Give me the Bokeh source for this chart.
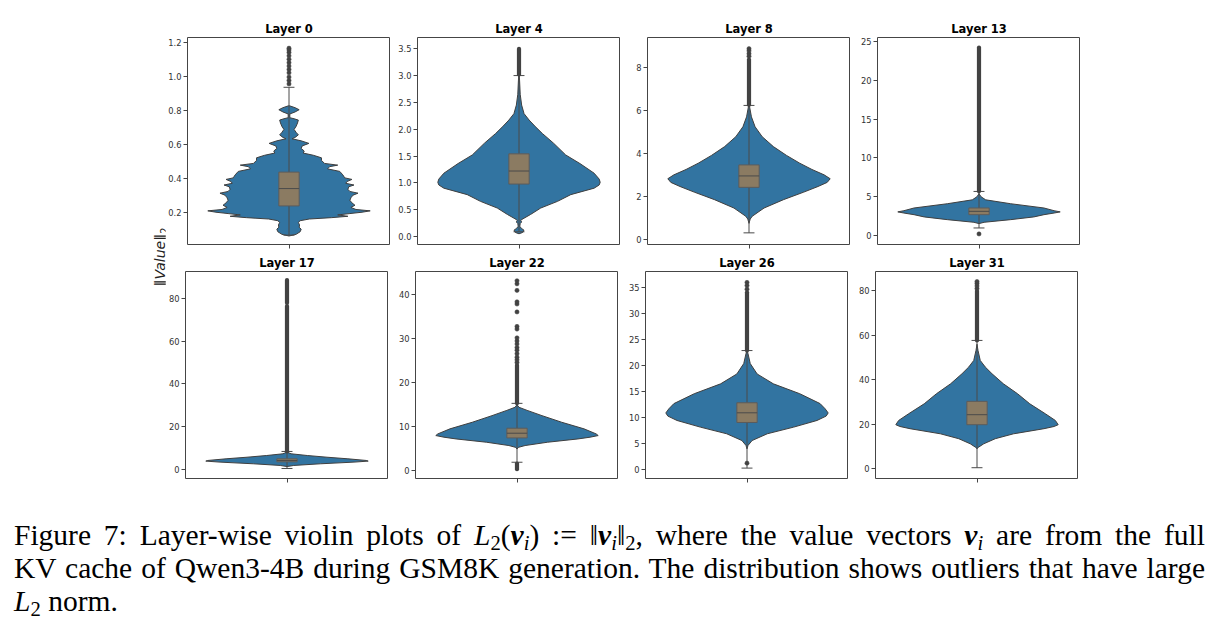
from bokeh.plotting import figure
from bokeh.models import Range1d, FixedTicker, Div, NumeralTickFormatter
from bokeh.layouts import row, column
from bokeh.embed import file_html
from bokeh.resources import INLINE

# ---------------- data ----------------
layer_names = ["Layer 0", "Layer 4", "Layer 8", "Layer 13",
               "Layer 17", "Layer 22", "Layer 26", "Layer 31"]

# violin outlines: y values and half-widths (fraction of category width)
l0_y = [0.060, 0.070, 0.085, 0.100, 0.112, 0.125, 0.140, 0.150, 0.160, 0.168, 0.176, 0.184,
        0.192, 0.200, 0.208, 0.216, 0.228, 0.241, 0.255, 0.270, 0.285, 0.300, 0.312, 0.322,
        0.335, 0.350, 0.360, 0.370, 0.380, 0.393, 0.402, 0.420, 0.440, 0.455, 0.468, 0.477,
        0.487, 0.505, 0.520, 0.535, 0.548, 0.560, 0.575, 0.590, 0.605, 0.620, 0.632, 0.640,
        0.655, 0.670, 0.687, 0.705, 0.725, 0.742, 0.750, 0.756, 0.778, 0.790, 0.803, 0.815, 0.826]
l0_w = [0.0, 0.035, 0.055, 0.060, 0.050, 0.052, 0.046, 0.055, 0.100, 0.21, 0.29, 0.24,
        0.30, 0.36, 0.40, 0.33, 0.305, 0.325, 0.31, 0.30, 0.305, 0.315, 0.34, 0.30,
        0.29, 0.295, 0.32, 0.28, 0.285, 0.31, 0.275, 0.265, 0.25, 0.19, 0.20, 0.24,
        0.175, 0.16, 0.16, 0.12, 0.07, 0.075, 0.06, 0.065, 0.098, 0.06, 0.015, 0.03,
        0.046, 0.035, 0.025, 0.035, 0.042, 0.046, 0.025, 0.004, 0.004, 0.03, 0.05, 0.03, 0.003]

l4_y = [0.05, 0.07, 0.09, 0.12, 0.15, 0.19, 0.24, 0.27, 0.30, 0.33, 0.41, 0.53, 0.655, 0.78,
        0.90, 0.96, 1.01, 1.07, 1.18, 1.36, 1.52, 1.74, 1.92, 2.05, 2.17, 2.29, 2.45, 2.65, 2.90, 3.10]
l4_w = [0.0, 0.015, 0.022, 0.024, 0.012, 0.004, 0.006, 0.013, 0.008, 0.02, 0.057, 0.107, 0.19, 0.255,
        0.37, 0.395, 0.40, 0.395, 0.37, 0.30, 0.23, 0.17, 0.115, 0.08, 0.05, 0.025, 0.013, 0.006, 0.003, 0.0]

l8_y = [0.75, 0.95, 1.08, 1.46, 1.85, 2.20, 2.46, 2.65, 2.82, 3.00, 3.25, 3.54, 3.90, 4.31,
        4.77, 5.23, 5.69, 6.10, 6.40]
l8_w = [0.0, 0.006, 0.016, 0.074, 0.17, 0.27, 0.34, 0.385, 0.40, 0.37, 0.31, 0.25, 0.185, 0.12,
        0.065, 0.03, 0.012, 0.004, 0.0]

l13_y = [1.54, 1.71, 2.05, 2.40, 2.69, 2.90, 3.05, 3.20, 3.55, 4.10, 4.60, 5.00, 5.40]
l13_w = [0.0, 0.025, 0.156, 0.27, 0.32, 0.37, 0.40, 0.37, 0.32, 0.156, 0.033, 0.01, 0.0]

l17_y = [1.2, 1.72, 2.5, 3.29, 3.76, 4.07, 4.85, 5.6, 6.4, 7.2, 8.0]
l17_w = [0.0, 0.033, 0.164, 0.33, 0.40, 0.39, 0.30, 0.197, 0.10, 0.02, 0.0]

l22_y = [4.9, 5.3, 5.7, 6.45, 7.2, 7.6, 7.97, 8.35, 9.5, 11.0, 12.5, 13.7, 14.4, 15.0]
l22_w = [0.0, 0.008, 0.04, 0.15, 0.30, 0.36, 0.40, 0.39, 0.33, 0.22, 0.123, 0.05, 0.01, 0.0]

l26_y = [3.9, 4.55, 5.5, 6.8, 8.08, 9.36, 10.2, 10.8, 11.6, 12.6, 14.5, 16.4, 18.3, 20.3, 22.2, 23.0]
l26_w = [0.0, 0.005, 0.025, 0.10, 0.23, 0.345, 0.39, 0.40, 0.385, 0.36, 0.26, 0.13, 0.05, 0.016, 0.005, 0.0]

l31_y = [9.0, 9.7, 11.2, 13.5, 15.7, 18.0, 19.0, 19.8, 21.7, 24.7, 29.2, 33.7, 38.2, 42.7,
         45.7, 48.7, 53.2, 56.0]
l31_w = [0.0, 0.008, 0.033, 0.09, 0.18, 0.33, 0.38, 0.40, 0.386, 0.337, 0.26, 0.20, 0.13, 0.074,
         0.041, 0.016, 0.005, 0.0]

violin_y = [l0_y, l4_y, l8_y, l13_y, l17_y, l22_y, l26_y, l31_y]
violin_w = [l0_w, l4_w, l8_w, l13_w, l17_w, l22_w, l26_w, l31_w]

# box plot statistics
q1 = [0.237, 0.977, 2.42, 2.69, 3.44, 7.44, 8.97, 19.8]
med = [0.339, 1.22, 2.95, 3.12, 4.07, 8.5, 10.83, 24.3]
q3 = [0.436, 1.54, 3.46, 3.55, 4.85, 9.64, 12.76, 30.3]
whisk_lo = [0.065, 0.087, 0.31, 0.98, 0.3, 1.9, 0.2, 0.45]
whisk_hi = [0.935, 3.0, 6.22, 5.68, 8.3, 15.3, 22.8, 57.7]

# outliers: dense runs (lo, hi) and individual points
dense_lo = [[], [3.02], [6.25], [5.70], [8.3, 78.0], [15.3, 0.3], [22.8], [57.7]]
dense_hi = [[], [3.50], [8.35], [24.2], [76.6, 88.8], [24.0, 1.6], [34.0], [80.0]]
outliers = [
    [0.955, 0.975, 0.995, 1.02, 1.04, 1.06, 1.08, 1.10, 1.12, 1.14, 1.155, 1.165],
    [],
    [8.5, 8.62, 8.75, 8.85],
    [0.21],
    [],
    [24.6, 25.2, 25.8, 26.6, 27.4, 28.0, 28.8, 29.5, 30.2, 32.2, 32.8, 36.1, 37.9,
     38.4, 41.0, 42.5, 43.2],
    [1.15, 34.6, 35.3, 35.9],
    [81.0, 82.2, 83.3, 84.2],
]

# axes
y_lo = [0.01, -0.15, -0.23, -1.15, -4.4, -1.8, -1.8, -4.4]
y_hi = [1.228, 3.71, 9.37, 25.5, 92.8, 45.3, 38.0, 88.7]
tick_vals = [
    [0.2, 0.4, 0.6, 0.8, 1.0, 1.2],
    [0.0, 0.5, 1.0, 1.5, 2.0, 2.5, 3.0, 3.5],
    [0, 2, 4, 6, 8],
    [0, 5, 10, 15, 20, 25],
    [0, 20, 40, 60, 80],
    [0, 10, 20, 30, 40],
    [0, 5, 10, 15, 20, 25, 30, 35],
    [0, 20, 40, 60, 80],
]
tick_text = [
    ["0.2", "0.4", "0.6", "0.8", "1.0", "1.2"],
    ["0.0", "0.5", "1.0", "1.5", "2.0", "2.5", "3.0", "3.5"],
    ["0", "2", "4", "6", "8"],
    ["0", "5", "10", "15", "20", "25"],
    ["0", "20", "40", "60", "80"],
    ["0", "10", "20", "30", "40"],
    ["0", "5", "10", "15", "20", "25", "30", "35"],
    ["0", "20", "40", "60", "80"],
]
tick_fmt = ["0.0", "0.0", "0", "0", "0", "0", "0", "0"]

# ---------------- styles ----------------
VIOLIN = "#3274a1"
EDGE = "#3f3f3f"
BOX = "#8b7b62"
DARK = "#4a4a4a"
DOT = "#424242"
FONT = "DejaVu Sans"
BOX_HW = 0.05
CAP_HW = 0.027


def make_panel(i):
    col = i % 4
    top_row = i < 4
    p = figure(
        frame_width=203, frame_height=207,
        min_border_left=19 if col == 0 else 27,
        min_border_right=0,
        min_border_top=37 if top_row else 21,
        min_border_bottom=6 if top_row else 8,
        x_range=Range1d(-0.5, 0.5),
        y_range=Range1d(y_lo[i], y_hi[i]),
        output_backend="svg", toolbar_location=None,
        title=layer_names[i],
    )
    p.title.align = "center"
    p.title.text_font = FONT
    p.title.text_font_size = "11.5px"
    p.title.text_font_style = "bold"
    p.title.text_color = "#000000"
    p.title.standoff = 4
    p.grid.visible = False
    p.outline_line_color = "#454545"
    p.outline_line_width = 1
    p.background_fill_color = "white"
    p.border_fill_color = "white"

    p.yaxis.ticker = FixedTicker(ticks=tick_vals[i])
    p.yaxis.formatter = NumeralTickFormatter(format=tick_fmt[i])
    p.yaxis.major_label_overrides = {t: s for t, s in zip(tick_vals[i], tick_text[i])}
    p.xaxis.ticker = FixedTicker(ticks=[0])
    for ax in (p.xaxis[0], p.yaxis[0]):
        ax.axis_line_color = None
        ax.major_tick_line_color = "#444444"
        ax.major_tick_out = 4
        ax.major_tick_in = 0
        ax.minor_tick_line_color = None
        ax.major_label_standoff = 2
        ax.major_label_text_font = FONT
        ax.major_label_text_color = "#333333"
    p.yaxis.major_label_text_font_size = "8.3px"
    # x axis: single tick, no label drawn
    p.xaxis.major_label_text_font_size = "1px"
    p.xaxis.major_label_text_color = None
    p.xaxis.major_label_standoff = 0

    ys = violin_y[i]
    ws = violin_w[i]
    xs = list(ws) + [-w for w in reversed(ws)]
    yy = list(ys) + list(reversed(ys))
    p.patch(xs, yy, fill_color=VIOLIN, line_color=EDGE, line_width=1)

    # whiskers and caps
    p.segment(x0=[0, 0], y0=[q3[i], whisk_lo[i]], x1=[0, 0], y1=[whisk_hi[i], q1[i]],
              line_color=DARK, line_width=1)
    p.segment(x0=[-CAP_HW, -CAP_HW], y0=[whisk_lo[i], whisk_hi[i]],
              x1=[CAP_HW, CAP_HW], y1=[whisk_lo[i], whisk_hi[i]],
              line_color=DARK, line_width=1)
    # box
    p.quad(left=[-BOX_HW], right=[BOX_HW], bottom=[q1[i]], top=[q3[i]],
           fill_color=BOX, line_color="#5c5c5c", line_width=1)
    p.segment(x0=[-BOX_HW], y0=[med[i]], x1=[BOX_HW], y1=[med[i]],
              line_color=DARK, line_width=1)

    # outliers
    if dense_lo[i]:
        n = len(dense_lo[i])
        p.segment(x0=[0] * n, y0=dense_lo[i], x1=[0] * n, y1=dense_hi[i],
                  line_color=DOT, line_width=4.2, line_cap="round")
    if outliers[i]:
        p.scatter(x=[0] * len(outliers[i]), y=outliers[i], size=4.2,
                  fill_color=DOT, line_color=DOT, line_width=0.5)
    return p


panels = [make_panel(i) for i in range(8)]

# shared y-axis label (rotated HTML text so italic and subscript stay real text)
ylabel_html = (
    '<div style="position:relative;width:165px;height:486px;">'
    '<div style="position:absolute;left:100px;top:249px;width:120px;height:16px;'
    'line-height:16px;text-align:center;transform:rotate(-90deg);'
    "font-family:'DejaVu Sans',sans-serif;font-size:14px;color:#222;white-space:nowrap;\">"
    '\u2016<i>Value</i>\u2016<sub style="font-size:70%;vertical-align:-0.3em;line-height:0;">2</sub>'
    '</div></div>'
)
lab = Div(text=ylabel_html, width=165, height=486, margin=(0, 0, 0, 0))

grid = column(row(*panels[:4]), row(*panels[4:]))

SUB = '<sub style="font-size:70%;vertical-align:-0.25em;line-height:0;">'
V = '<b><i>v</i></b>'
VI = V + SUB + '<i>i</i></sub>'
base = ("font-family:'Liberation Serif','Times New Roman',serif;font-size:29.5px;"
        "line-height:33px;color:#000;")
just = "width:1191px;white-space:nowrap;text-align:justify;text-align-last:justify;"
left = "width:1191px;white-space:nowrap;text-align:left;"
caption_lines = [
    f"Figure 7: Layer-wise violin plots of <i>L</i>{SUB}2</sub>({VI}) := \u2016{VI}\u2016{SUB}2</sub>, "
    f"where the value vectors {VI} are from the full",
    "KV cache of Qwen3-4B during GSM8K generation. The distribution shows outliers that have large",
    f"<i>L</i>{SUB}2</sub> norm.",
]
html = (f'<div style="{base}padding:33px 0 0 14px;">'
        f'<div style="{just}">{caption_lines[0]}</div>'
        f'<div style="{just}">{caption_lines[1]}</div>'
        f'<div style="{left}">{caption_lines[2]}</div>'
        '</div>')
caption = Div(text=html, width=1218, height=150, margin=(0, 0, 0, 0))

layout = column(row(lab, grid), caption)
open("out.html", "w").write(file_html(layout, INLINE))
